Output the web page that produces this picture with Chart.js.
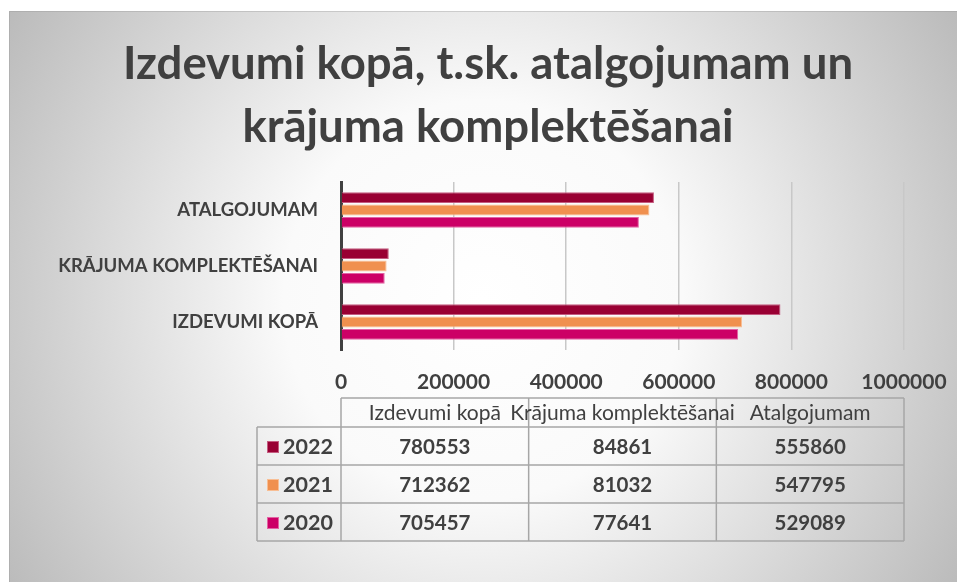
<!DOCTYPE html>
<html>
<head>
<meta charset="utf-8">
<script src="https://cdn.jsdelivr.net/npm/chart.js@4.4.0/dist/chart.umd.min.js"></script>
<style>
html, body { margin: 0; padding: 0; background: #fff; }
#wrap { width: 957px; height: 582px; position: relative; }
</style>
</head>
<body>
<div id="wrap"><canvas id="budgetChart"></canvas></div>
<script>
// data, in the order of the data table columns
const categories = ['Izdevumi kopā', 'Krājuma komplektēšanai', 'Atalgojumam'];
const axisLabels = ['IZDEVUMI KOPĀ', 'KRĀJUMA KOMPLEKTĒŠANAI', 'ATALGOJUMAM'];
const years = ['2022', '2021', '2020'];
const values2022 = [780553, 84861, 555860];
const values2021 = [712362, 81032, 547795];
const values2020 = [705457, 77641, 529089];
const xTicks = [0, 200000, 400000, 600000, 800000, 1000000];
const titleLines = ['Izdevumi kopā, t.sk. atalgojumam un', 'krājuma komplektēšanai'];

const fillColors = ['#990033', '#F0904F', '#CC0066'];
const edgeColors = ['#C45C80', '#F8BE94', '#E263A3'];
const textColor = '#404040';
const fontName = 'Lato';

// excel puts the first category at the bottom
const rev = arr => arr.slice().reverse();

const background = {
    id: 'background',
    beforeDraw(chart) {
        const ctx = chart.ctx;
        ctx.save();
        ctx.fillStyle = '#fff';
        ctx.fillRect(0, 0, chart.width, chart.height);
        const g = ctx.createRadialGradient(483, 300, 0, 483, 300, 570);
        g.addColorStop(0, '#ffffff');
        g.addColorStop(0.35, '#fafafa');
        g.addColorStop(1, '#b8b8b8');
        ctx.fillStyle = g;
        ctx.fillRect(9, 11, chart.width - 9, chart.height - 11);
        ctx.strokeStyle = 'rgba(150,150,150,0.35)';
        ctx.lineWidth = 1;
        ctx.beginPath();
        ctx.moveTo(9.5, chart.height); ctx.lineTo(9.5, 11.5); ctx.lineTo(chart.width, 11.5);
        ctx.stroke();
        ctx.restore();
    }
};

const chartTitle = {
    id: 'chartTitle',
    afterDraw(chart) {
        const ctx = chart.ctx;
        ctx.save();
        ctx.fillStyle = textColor;
        ctx.font = 'bold 45.5px ' + fontName;
        ctx.textAlign = 'center';
        ctx.textBaseline = 'alphabetic';
        titleLines.forEach((t, i) => ctx.fillText(t, 488, 79 + i * 63));
        ctx.restore();
    }
};

const dataTable = {
    id: 'dataTable',
    afterDraw(chart) {
        const ctx = chart.ctx;
        const left = chart.chartArea.left;
        const right = chart.chartArea.right;
        const colW = (right - left) / categories.length;
        const keyLeft = 257;
        const top = 398, headH = 29, rowH = 38;
        const bottom = top + headH + rowH * years.length;

        ctx.save();
        ctx.strokeStyle = '#a6a6a6';
        ctx.lineWidth = 1.5;
        ctx.beginPath();
        // header row
        ctx.moveTo(left, top); ctx.lineTo(right, top);
        // horizontal lines of body
        for (let r = 0; r <= years.length; r++) {
            const y = top + headH + r * rowH;
            ctx.moveTo(keyLeft, y); ctx.lineTo(right, y);
        }
        ctx.moveTo(keyLeft, top + headH); ctx.lineTo(keyLeft, bottom);
        for (let c = 0; c <= categories.length; c++) {
            const x = left + c * colW;
            ctx.moveTo(x, top); ctx.lineTo(x, bottom);
        }
        ctx.stroke();

        ctx.fillStyle = textColor;
        ctx.textAlign = 'center';
        ctx.textBaseline = 'middle';
        ctx.font = '21px ' + fontName;
        categories.forEach((c, i) => {
            ctx.fillText(c, left + colW * (i + 0.5), top + headH / 2 + 1);
        });

        chart.data.datasets.forEach((ds, r) => {
            const cy = top + headH + rowH * (r + 0.5) + 1;
            ctx.fillStyle = ds.backgroundColor;
            ctx.fillRect(267, cy - 6, 12, 12);
            ctx.strokeStyle = ds.borderColor;
            ctx.lineWidth = 1;
            ctx.strokeRect(267.5, cy - 5.5, 11, 11);
            ctx.fillStyle = textColor;
            ctx.textAlign = 'left';
            ctx.font = 'bold 21.5px ' + fontName;
            ctx.fillText(ds.label, 283, cy);
            ctx.textAlign = 'center';
            ctx.font = 'bold 20.5px ' + fontName;
            rev(ds.data).forEach((v, i) => {
                ctx.fillText(String(v), left + colW * (i + 0.5), cy);
            });
        });
        ctx.restore();
    }
};

const ctx = document.getElementById('budgetChart').getContext('2d');
const budgetChart = new Chart(ctx, {
    type: 'bar',
    data: {
        labels: rev(axisLabels),
        datasets: [
            { label: years[0], data: rev(values2022), backgroundColor: fillColors[0], borderColor: edgeColors[0] },
            { label: years[1], data: rev(values2021), backgroundColor: fillColors[1], borderColor: edgeColors[1] },
            { label: years[2], data: rev(values2020), backgroundColor: fillColors[2], borderColor: edgeColors[2] }
        ]
    },
    options: {
        indexAxis: 'y',
        responsive: true,
        maintainAspectRatio: false,
        animation: false,
        datasets: {
            bar: {
                borderWidth: 1,
                categoryPercentage: 0.66,
                barPercentage: 0.88
            }
        },
        layout: {
            padding: { left: 0, right: 53, top: 182, bottom: 182 }
        },
        plugins: {
            legend: { display: false },
            tooltip: { enabled: false },
            title: { display: false }
        },
        scales: {
            x: {
                min: 0,
                max: 1000000,
                afterBuildTicks: s => { s.ticks = xTicks.map(v => ({ value: v })); },
                afterFit: s => { s.height = 50; s.paddingLeft = 0; s.paddingRight = 0; },
                grid: { color: '#c8c8c8', lineWidth: 1.5, drawTicks: false },
                border: { display: false },
                ticks: {
                    color: textColor,
                    padding: 20,
                    maxRotation: 0,
                    callback: v => String(v),
                    font: { family: fontName, size: 21, weight: 'bold' }
                }
            },
            y: {
                afterFit: s => { s.width = 341; },
                grid: { display: false },
                border: { color: '#404040', width: 3 },
                ticks: {
                    color: textColor,
                    padding: 15,
                    font: { family: fontName, size: 18.5, weight: 'bold' }
                }
            }
        }
    },
    plugins: [background, chartTitle, dataTable]
});
</script>
</body>
</html>
